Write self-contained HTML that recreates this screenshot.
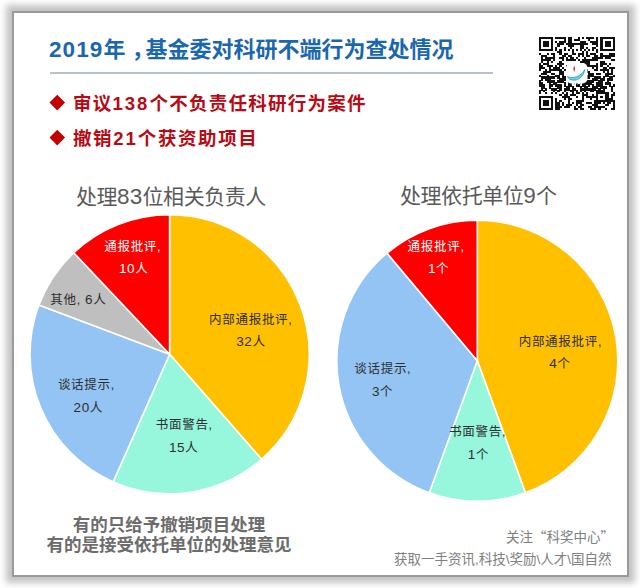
<!DOCTYPE html>
<html><head><meta charset="utf-8">
<style>
html,body{margin:0;padding:0;background:#fff;}
body{width:640px;height:588px;position:relative;overflow:hidden;font-family:"Liberation Sans","Noto Sans CJK SC",sans-serif;}
.frame{position:absolute;left:12px;top:11px;width:613px;height:562px;border:2px solid #9a9a9a;box-shadow:0 0 6.6px 6px rgba(0,0,0,0.24);background:#fff;}
.t{position:absolute;white-space:nowrap;line-height:1;}
#title{left:49px;top:38.5px;font-size:22px;font-weight:bold;color:#1b67ae;font-family:"Liberation Sans","Noto Sans CJK SC",sans-serif;}
#title .cm{position:relative;left:6px;margin-right:-2px;}
#title .d{font-size:22.5px;letter-spacing:1.1px;}
#sep{position:absolute;left:50px;top:72px;width:443px;height:2px;background:#b9c1ca;}
.b{font-size:18.5px;font-weight:bold;color:#b80a14;letter-spacing:1.25px;}
.b .n{letter-spacing:2px;}
.dia{position:absolute;width:10.5px;height:10.5px;background:#c00000;transform:rotate(45deg);}
.ct{font-size:21px;color:#595959;letter-spacing:-0.45px;}
.ct .n{font-size:22.5px;letter-spacing:0.2px;}
.lb{font-size:12.5px;color:#2e2e2e;text-align:center;width:100px;font-weight:400;letter-spacing:0.7px;}
.lb .n{font-size:13.5px;letter-spacing:0.6px;}
.lw{color:#fff;font-weight:400;}
.bt{font-size:17.5px;font-weight:bold;color:#6c6c6c;text-align:center;width:300px;}
.ft{font-size:13.5px;color:#808080;}
.q{font-family:"Noto Sans CJK SC",sans-serif;}
svg{position:absolute;left:0;top:0;}
</style></head><body>
<div class="frame"></div>
<svg width="640" height="588" viewBox="0 0 640 588">
<path d="M169.60,354.20 L169.60,214.60 A139.6,139.6 0 0 1 261.56,459.23 Z" fill="#FFC000" stroke="#fff" stroke-width="1.6" stroke-linejoin="round"/>
<path d="M169.60,354.20 L261.56,459.23 A139.6,139.6 0 0 1 113.14,481.87 Z" fill="#96F7DC" stroke="#fff" stroke-width="1.6" stroke-linejoin="round"/>
<path d="M169.60,354.20 L113.14,481.87 A139.6,139.6 0 0 1 38.93,305.08 Z" fill="#93C4F4" stroke="#fff" stroke-width="1.6" stroke-linejoin="round"/>
<path d="M169.60,354.20 L38.93,305.08 A139.6,139.6 0 0 1 73.73,252.73 Z" fill="#BFBFBF" stroke="#fff" stroke-width="1.6" stroke-linejoin="round"/>
<path d="M169.60,354.20 L73.73,252.73 A139.6,139.6 0 0 1 169.60,214.60 Z" fill="#FF0000" stroke="#fff" stroke-width="1.6" stroke-linejoin="round"/>
<path d="M477.30,360.70 L477.30,220.20 A140.5,140.5 0 0 1 525.35,492.73 Z" fill="#FFC000" stroke="#fff" stroke-width="1.6" stroke-linejoin="round"/>
<path d="M477.30,360.70 L525.35,492.73 A140.5,140.5 0 0 1 429.25,492.73 Z" fill="#96F7DC" stroke="#fff" stroke-width="1.6" stroke-linejoin="round"/>
<path d="M477.30,360.70 L429.25,492.73 A140.5,140.5 0 0 1 386.99,253.07 Z" fill="#93C4F4" stroke="#fff" stroke-width="1.6" stroke-linejoin="round"/>
<path d="M477.30,360.70 L386.99,253.07 A140.5,140.5 0 0 1 477.30,220.20 Z" fill="#FF0000" stroke="#fff" stroke-width="1.6" stroke-linejoin="round"/>
<g fill="#111" shape-rendering="crispEdges">
<rect x="539.00" y="36.60" width="14.39" height="2.04"/>
<rect x="555.39" y="36.60" width="10.29" height="2.04"/>
<rect x="567.68" y="36.60" width="4.15" height="2.04"/>
<rect x="577.92" y="36.60" width="2.10" height="2.04"/>
<rect x="582.02" y="36.60" width="2.10" height="2.04"/>
<rect x="586.12" y="36.60" width="8.24" height="2.04"/>
<rect x="596.36" y="36.60" width="2.10" height="2.04"/>
<rect x="600.46" y="36.60" width="14.39" height="2.04"/>
<rect x="539.00" y="38.59" width="2.10" height="2.04"/>
<rect x="551.29" y="38.59" width="2.10" height="2.04"/>
<rect x="563.58" y="38.59" width="2.10" height="2.04"/>
<rect x="567.68" y="38.59" width="4.15" height="2.04"/>
<rect x="573.83" y="38.59" width="6.20" height="2.04"/>
<rect x="588.17" y="38.59" width="2.10" height="2.04"/>
<rect x="596.36" y="38.59" width="2.10" height="2.04"/>
<rect x="600.46" y="38.59" width="2.10" height="2.04"/>
<rect x="612.75" y="38.59" width="2.10" height="2.04"/>
<rect x="539.00" y="40.59" width="2.10" height="2.04"/>
<rect x="543.10" y="40.59" width="6.20" height="2.04"/>
<rect x="551.29" y="40.59" width="2.10" height="2.04"/>
<rect x="555.39" y="40.59" width="2.10" height="2.04"/>
<rect x="559.49" y="40.59" width="6.20" height="2.04"/>
<rect x="567.68" y="40.59" width="4.15" height="2.04"/>
<rect x="579.97" y="40.59" width="6.20" height="2.04"/>
<rect x="590.22" y="40.59" width="8.24" height="2.04"/>
<rect x="600.46" y="40.59" width="2.10" height="2.04"/>
<rect x="604.56" y="40.59" width="6.20" height="2.04"/>
<rect x="612.75" y="40.59" width="2.10" height="2.04"/>
<rect x="539.00" y="42.58" width="2.10" height="2.04"/>
<rect x="543.10" y="42.58" width="6.20" height="2.04"/>
<rect x="551.29" y="42.58" width="2.10" height="2.04"/>
<rect x="557.44" y="42.58" width="6.20" height="2.04"/>
<rect x="565.63" y="42.58" width="22.59" height="2.04"/>
<rect x="592.26" y="42.58" width="6.20" height="2.04"/>
<rect x="600.46" y="42.58" width="2.10" height="2.04"/>
<rect x="604.56" y="42.58" width="6.20" height="2.04"/>
<rect x="612.75" y="42.58" width="2.10" height="2.04"/>
<rect x="539.00" y="44.58" width="2.10" height="2.04"/>
<rect x="543.10" y="44.58" width="6.20" height="2.04"/>
<rect x="551.29" y="44.58" width="2.10" height="2.04"/>
<rect x="557.44" y="44.58" width="2.10" height="2.04"/>
<rect x="567.68" y="44.58" width="6.20" height="2.04"/>
<rect x="579.97" y="44.58" width="4.15" height="2.04"/>
<rect x="596.36" y="44.58" width="2.10" height="2.04"/>
<rect x="600.46" y="44.58" width="2.10" height="2.04"/>
<rect x="604.56" y="44.58" width="6.20" height="2.04"/>
<rect x="612.75" y="44.58" width="2.10" height="2.04"/>
<rect x="539.00" y="46.57" width="2.10" height="2.04"/>
<rect x="551.29" y="46.57" width="2.10" height="2.04"/>
<rect x="555.39" y="46.57" width="2.10" height="2.04"/>
<rect x="563.58" y="46.57" width="2.10" height="2.04"/>
<rect x="569.73" y="46.57" width="2.10" height="2.04"/>
<rect x="579.97" y="46.57" width="4.15" height="2.04"/>
<rect x="586.12" y="46.57" width="2.10" height="2.04"/>
<rect x="592.26" y="46.57" width="4.15" height="2.04"/>
<rect x="600.46" y="46.57" width="2.10" height="2.04"/>
<rect x="612.75" y="46.57" width="2.10" height="2.04"/>
<rect x="539.00" y="48.57" width="14.39" height="2.04"/>
<rect x="555.39" y="48.57" width="2.10" height="2.04"/>
<rect x="559.49" y="48.57" width="2.10" height="2.04"/>
<rect x="563.58" y="48.57" width="2.10" height="2.04"/>
<rect x="567.68" y="48.57" width="2.10" height="2.04"/>
<rect x="571.78" y="48.57" width="2.10" height="2.04"/>
<rect x="575.88" y="48.57" width="2.10" height="2.04"/>
<rect x="579.97" y="48.57" width="2.10" height="2.04"/>
<rect x="584.07" y="48.57" width="2.10" height="2.04"/>
<rect x="588.17" y="48.57" width="2.10" height="2.04"/>
<rect x="592.26" y="48.57" width="2.10" height="2.04"/>
<rect x="596.36" y="48.57" width="2.10" height="2.04"/>
<rect x="600.46" y="48.57" width="14.39" height="2.04"/>
<rect x="557.44" y="50.56" width="4.15" height="2.04"/>
<rect x="571.78" y="50.56" width="2.10" height="2.04"/>
<rect x="582.02" y="50.56" width="2.10" height="2.04"/>
<rect x="586.12" y="50.56" width="2.10" height="2.04"/>
<rect x="596.36" y="50.56" width="2.10" height="2.04"/>
<rect x="539.00" y="52.56" width="2.10" height="2.04"/>
<rect x="547.19" y="52.56" width="2.10" height="2.04"/>
<rect x="551.29" y="52.56" width="4.15" height="2.04"/>
<rect x="559.49" y="52.56" width="2.10" height="2.04"/>
<rect x="563.58" y="52.56" width="4.15" height="2.04"/>
<rect x="571.78" y="52.56" width="4.15" height="2.04"/>
<rect x="577.92" y="52.56" width="6.20" height="2.04"/>
<rect x="586.12" y="52.56" width="2.10" height="2.04"/>
<rect x="590.22" y="52.56" width="6.20" height="2.04"/>
<rect x="600.46" y="52.56" width="2.10" height="2.04"/>
<rect x="608.65" y="52.56" width="6.20" height="2.04"/>
<rect x="541.05" y="54.55" width="6.20" height="2.04"/>
<rect x="553.34" y="54.55" width="2.10" height="2.04"/>
<rect x="561.54" y="54.55" width="4.15" height="2.04"/>
<rect x="567.68" y="54.55" width="4.15" height="2.04"/>
<rect x="577.92" y="54.55" width="2.10" height="2.04"/>
<rect x="582.02" y="54.55" width="2.10" height="2.04"/>
<rect x="586.12" y="54.55" width="4.15" height="2.04"/>
<rect x="594.31" y="54.55" width="4.15" height="2.04"/>
<rect x="600.46" y="54.55" width="14.39" height="2.04"/>
<rect x="541.05" y="56.55" width="2.10" height="2.04"/>
<rect x="545.15" y="56.55" width="10.29" height="2.04"/>
<rect x="559.49" y="56.55" width="4.15" height="2.04"/>
<rect x="565.63" y="56.55" width="2.10" height="2.04"/>
<rect x="569.73" y="56.55" width="4.15" height="2.04"/>
<rect x="575.88" y="56.55" width="2.10" height="2.04"/>
<rect x="584.07" y="56.55" width="2.10" height="2.04"/>
<rect x="592.26" y="56.55" width="10.29" height="2.04"/>
<rect x="604.56" y="56.55" width="6.20" height="2.04"/>
<rect x="541.05" y="58.54" width="10.29" height="2.04"/>
<rect x="553.34" y="58.54" width="2.10" height="2.04"/>
<rect x="561.54" y="58.54" width="2.10" height="2.04"/>
<rect x="565.63" y="58.54" width="10.29" height="2.04"/>
<rect x="577.92" y="58.54" width="2.10" height="2.04"/>
<rect x="582.02" y="58.54" width="16.44" height="2.04"/>
<rect x="610.70" y="58.54" width="4.15" height="2.04"/>
<rect x="541.05" y="60.54" width="2.10" height="2.04"/>
<rect x="547.19" y="60.54" width="2.10" height="2.04"/>
<rect x="551.29" y="60.54" width="2.10" height="2.04"/>
<rect x="559.49" y="60.54" width="2.10" height="2.04"/>
<rect x="579.97" y="60.54" width="10.29" height="2.04"/>
<rect x="600.46" y="60.54" width="4.15" height="2.04"/>
<rect x="539.00" y="62.53" width="2.10" height="2.04"/>
<rect x="543.10" y="62.53" width="6.20" height="2.04"/>
<rect x="557.44" y="62.53" width="6.20" height="2.04"/>
<rect x="571.78" y="62.53" width="6.20" height="2.04"/>
<rect x="579.97" y="62.53" width="2.10" height="2.04"/>
<rect x="584.07" y="62.53" width="6.20" height="2.04"/>
<rect x="596.36" y="62.53" width="2.10" height="2.04"/>
<rect x="600.46" y="62.53" width="6.20" height="2.04"/>
<rect x="608.65" y="62.53" width="2.10" height="2.04"/>
<rect x="539.00" y="64.52" width="4.15" height="2.04"/>
<rect x="547.19" y="64.52" width="6.20" height="2.04"/>
<rect x="555.39" y="64.52" width="2.10" height="2.04"/>
<rect x="559.49" y="64.52" width="2.10" height="2.04"/>
<rect x="565.63" y="64.52" width="2.10" height="2.04"/>
<rect x="575.88" y="64.52" width="2.10" height="2.04"/>
<rect x="579.97" y="64.52" width="18.49" height="2.04"/>
<rect x="600.46" y="64.52" width="2.10" height="2.04"/>
<rect x="606.61" y="64.52" width="2.10" height="2.04"/>
<rect x="539.00" y="66.52" width="6.20" height="2.04"/>
<rect x="549.24" y="66.52" width="2.10" height="2.04"/>
<rect x="553.34" y="66.52" width="6.20" height="2.04"/>
<rect x="561.54" y="66.52" width="2.10" height="2.04"/>
<rect x="565.63" y="66.52" width="4.15" height="2.04"/>
<rect x="571.78" y="66.52" width="4.15" height="2.04"/>
<rect x="592.26" y="66.52" width="2.10" height="2.04"/>
<rect x="596.36" y="66.52" width="2.10" height="2.04"/>
<rect x="602.51" y="66.52" width="4.15" height="2.04"/>
<rect x="608.65" y="66.52" width="6.20" height="2.04"/>
<rect x="539.00" y="68.51" width="2.10" height="2.04"/>
<rect x="545.15" y="68.51" width="2.10" height="2.04"/>
<rect x="549.24" y="68.51" width="12.34" height="2.04"/>
<rect x="563.58" y="68.51" width="4.15" height="2.04"/>
<rect x="571.78" y="68.51" width="16.44" height="2.04"/>
<rect x="594.31" y="68.51" width="4.15" height="2.04"/>
<rect x="600.46" y="68.51" width="8.24" height="2.04"/>
<rect x="610.70" y="68.51" width="2.10" height="2.04"/>
<rect x="543.10" y="70.51" width="8.24" height="2.04"/>
<rect x="559.49" y="70.51" width="4.15" height="2.04"/>
<rect x="567.68" y="70.51" width="2.10" height="2.04"/>
<rect x="571.78" y="70.51" width="4.15" height="2.04"/>
<rect x="584.07" y="70.51" width="6.20" height="2.04"/>
<rect x="602.51" y="70.51" width="2.10" height="2.04"/>
<rect x="606.61" y="70.51" width="2.10" height="2.04"/>
<rect x="610.70" y="70.51" width="2.10" height="2.04"/>
<rect x="541.05" y="72.50" width="6.20" height="2.04"/>
<rect x="551.29" y="72.50" width="4.15" height="2.04"/>
<rect x="559.49" y="72.50" width="4.15" height="2.04"/>
<rect x="565.63" y="72.50" width="6.20" height="2.04"/>
<rect x="577.92" y="72.50" width="6.20" height="2.04"/>
<rect x="588.17" y="72.50" width="6.20" height="2.04"/>
<rect x="596.36" y="72.50" width="4.15" height="2.04"/>
<rect x="604.56" y="72.50" width="8.24" height="2.04"/>
<rect x="539.00" y="74.50" width="2.10" height="2.04"/>
<rect x="547.19" y="74.50" width="2.10" height="2.04"/>
<rect x="555.39" y="74.50" width="4.15" height="2.04"/>
<rect x="561.54" y="74.50" width="2.10" height="2.04"/>
<rect x="565.63" y="74.50" width="8.24" height="2.04"/>
<rect x="577.92" y="74.50" width="6.20" height="2.04"/>
<rect x="586.12" y="74.50" width="8.24" height="2.04"/>
<rect x="604.56" y="74.50" width="4.15" height="2.04"/>
<rect x="612.75" y="74.50" width="2.10" height="2.04"/>
<rect x="541.05" y="76.49" width="14.39" height="2.04"/>
<rect x="557.44" y="76.49" width="2.10" height="2.04"/>
<rect x="561.54" y="76.49" width="4.15" height="2.04"/>
<rect x="569.73" y="76.49" width="8.24" height="2.04"/>
<rect x="579.97" y="76.49" width="4.15" height="2.04"/>
<rect x="586.12" y="76.49" width="4.15" height="2.04"/>
<rect x="594.31" y="76.49" width="6.20" height="2.04"/>
<rect x="602.51" y="76.49" width="2.10" height="2.04"/>
<rect x="608.65" y="76.49" width="4.15" height="2.04"/>
<rect x="541.05" y="78.49" width="2.10" height="2.04"/>
<rect x="545.15" y="78.49" width="6.20" height="2.04"/>
<rect x="559.49" y="78.49" width="6.20" height="2.04"/>
<rect x="569.73" y="78.49" width="8.24" height="2.04"/>
<rect x="579.97" y="78.49" width="2.10" height="2.04"/>
<rect x="592.26" y="78.49" width="6.20" height="2.04"/>
<rect x="600.46" y="78.49" width="4.15" height="2.04"/>
<rect x="606.61" y="78.49" width="6.20" height="2.04"/>
<rect x="539.00" y="80.48" width="2.10" height="2.04"/>
<rect x="547.19" y="80.48" width="8.24" height="2.04"/>
<rect x="557.44" y="80.48" width="6.20" height="2.04"/>
<rect x="573.83" y="80.48" width="2.10" height="2.04"/>
<rect x="577.92" y="80.48" width="2.10" height="2.04"/>
<rect x="582.02" y="80.48" width="2.10" height="2.04"/>
<rect x="586.12" y="80.48" width="8.24" height="2.04"/>
<rect x="598.41" y="80.48" width="4.15" height="2.04"/>
<rect x="606.61" y="80.48" width="2.10" height="2.04"/>
<rect x="539.00" y="82.48" width="4.15" height="2.04"/>
<rect x="549.24" y="82.48" width="2.10" height="2.04"/>
<rect x="553.34" y="82.48" width="4.15" height="2.04"/>
<rect x="563.58" y="82.48" width="2.10" height="2.04"/>
<rect x="567.68" y="82.48" width="4.15" height="2.04"/>
<rect x="575.88" y="82.48" width="2.10" height="2.04"/>
<rect x="582.02" y="82.48" width="10.29" height="2.04"/>
<rect x="596.36" y="82.48" width="6.20" height="2.04"/>
<rect x="604.56" y="82.48" width="6.20" height="2.04"/>
<rect x="539.00" y="84.47" width="6.20" height="2.04"/>
<rect x="549.24" y="84.47" width="4.15" height="2.04"/>
<rect x="555.39" y="84.47" width="6.20" height="2.04"/>
<rect x="563.58" y="84.47" width="2.10" height="2.04"/>
<rect x="567.68" y="84.47" width="4.15" height="2.04"/>
<rect x="575.88" y="84.47" width="4.15" height="2.04"/>
<rect x="582.02" y="84.47" width="4.15" height="2.04"/>
<rect x="588.17" y="84.47" width="2.10" height="2.04"/>
<rect x="592.26" y="84.47" width="2.10" height="2.04"/>
<rect x="596.36" y="84.47" width="6.20" height="2.04"/>
<rect x="608.65" y="84.47" width="2.10" height="2.04"/>
<rect x="612.75" y="84.47" width="2.10" height="2.04"/>
<rect x="541.05" y="86.46" width="4.15" height="2.04"/>
<rect x="549.24" y="86.46" width="2.10" height="2.04"/>
<rect x="557.44" y="86.46" width="4.15" height="2.04"/>
<rect x="565.63" y="86.46" width="4.15" height="2.04"/>
<rect x="571.78" y="86.46" width="2.10" height="2.04"/>
<rect x="579.97" y="86.46" width="2.10" height="2.04"/>
<rect x="584.07" y="86.46" width="4.15" height="2.04"/>
<rect x="592.26" y="86.46" width="6.20" height="2.04"/>
<rect x="600.46" y="86.46" width="6.20" height="2.04"/>
<rect x="610.70" y="86.46" width="2.10" height="2.04"/>
<rect x="541.05" y="88.46" width="2.10" height="2.04"/>
<rect x="545.15" y="88.46" width="2.10" height="2.04"/>
<rect x="551.29" y="88.46" width="6.20" height="2.04"/>
<rect x="559.49" y="88.46" width="2.10" height="2.04"/>
<rect x="563.58" y="88.46" width="6.20" height="2.04"/>
<rect x="571.78" y="88.46" width="4.15" height="2.04"/>
<rect x="579.97" y="88.46" width="16.44" height="2.04"/>
<rect x="598.41" y="88.46" width="2.10" height="2.04"/>
<rect x="602.51" y="88.46" width="2.10" height="2.04"/>
<rect x="610.70" y="88.46" width="2.10" height="2.04"/>
<rect x="539.00" y="90.45" width="2.10" height="2.04"/>
<rect x="543.10" y="90.45" width="2.10" height="2.04"/>
<rect x="553.34" y="90.45" width="2.10" height="2.04"/>
<rect x="557.44" y="90.45" width="2.10" height="2.04"/>
<rect x="563.58" y="90.45" width="2.10" height="2.04"/>
<rect x="569.73" y="90.45" width="4.15" height="2.04"/>
<rect x="575.88" y="90.45" width="2.10" height="2.04"/>
<rect x="579.97" y="90.45" width="2.10" height="2.04"/>
<rect x="584.07" y="90.45" width="2.10" height="2.04"/>
<rect x="590.22" y="90.45" width="4.15" height="2.04"/>
<rect x="596.36" y="90.45" width="8.24" height="2.04"/>
<rect x="610.70" y="90.45" width="2.10" height="2.04"/>
<rect x="539.00" y="92.45" width="2.10" height="2.04"/>
<rect x="545.15" y="92.45" width="2.10" height="2.04"/>
<rect x="551.29" y="92.45" width="2.10" height="2.04"/>
<rect x="555.39" y="92.45" width="2.10" height="2.04"/>
<rect x="561.54" y="92.45" width="2.10" height="2.04"/>
<rect x="565.63" y="92.45" width="2.10" height="2.04"/>
<rect x="571.78" y="92.45" width="2.10" height="2.04"/>
<rect x="575.88" y="92.45" width="4.15" height="2.04"/>
<rect x="582.02" y="92.45" width="2.10" height="2.04"/>
<rect x="586.12" y="92.45" width="2.10" height="2.04"/>
<rect x="596.36" y="92.45" width="12.34" height="2.04"/>
<rect x="612.75" y="92.45" width="2.10" height="2.04"/>
<rect x="559.49" y="94.44" width="2.10" height="2.04"/>
<rect x="563.58" y="94.44" width="4.15" height="2.04"/>
<rect x="569.73" y="94.44" width="6.20" height="2.04"/>
<rect x="582.02" y="94.44" width="6.20" height="2.04"/>
<rect x="592.26" y="94.44" width="2.10" height="2.04"/>
<rect x="596.36" y="94.44" width="2.10" height="2.04"/>
<rect x="604.56" y="94.44" width="4.15" height="2.04"/>
<rect x="610.70" y="94.44" width="4.15" height="2.04"/>
<rect x="539.00" y="96.44" width="14.39" height="2.04"/>
<rect x="561.54" y="96.44" width="8.24" height="2.04"/>
<rect x="575.88" y="96.44" width="2.10" height="2.04"/>
<rect x="582.02" y="96.44" width="2.10" height="2.04"/>
<rect x="586.12" y="96.44" width="12.34" height="2.04"/>
<rect x="600.46" y="96.44" width="2.10" height="2.04"/>
<rect x="604.56" y="96.44" width="4.15" height="2.04"/>
<rect x="610.70" y="96.44" width="2.10" height="2.04"/>
<rect x="539.00" y="98.43" width="2.10" height="2.04"/>
<rect x="551.29" y="98.43" width="2.10" height="2.04"/>
<rect x="555.39" y="98.43" width="2.10" height="2.04"/>
<rect x="563.58" y="98.43" width="2.10" height="2.04"/>
<rect x="567.68" y="98.43" width="4.15" height="2.04"/>
<rect x="582.02" y="98.43" width="2.10" height="2.04"/>
<rect x="590.22" y="98.43" width="2.10" height="2.04"/>
<rect x="596.36" y="98.43" width="2.10" height="2.04"/>
<rect x="604.56" y="98.43" width="8.24" height="2.04"/>
<rect x="539.00" y="100.43" width="2.10" height="2.04"/>
<rect x="543.10" y="100.43" width="6.20" height="2.04"/>
<rect x="551.29" y="100.43" width="2.10" height="2.04"/>
<rect x="555.39" y="100.43" width="2.10" height="2.04"/>
<rect x="559.49" y="100.43" width="2.10" height="2.04"/>
<rect x="567.68" y="100.43" width="2.10" height="2.04"/>
<rect x="575.88" y="100.43" width="8.24" height="2.04"/>
<rect x="594.31" y="100.43" width="20.54" height="2.04"/>
<rect x="539.00" y="102.42" width="2.10" height="2.04"/>
<rect x="543.10" y="102.42" width="6.20" height="2.04"/>
<rect x="551.29" y="102.42" width="2.10" height="2.04"/>
<rect x="555.39" y="102.42" width="4.15" height="2.04"/>
<rect x="561.54" y="102.42" width="2.10" height="2.04"/>
<rect x="567.68" y="102.42" width="2.10" height="2.04"/>
<rect x="571.78" y="102.42" width="2.10" height="2.04"/>
<rect x="575.88" y="102.42" width="6.20" height="2.04"/>
<rect x="586.12" y="102.42" width="6.20" height="2.04"/>
<rect x="594.31" y="102.42" width="6.20" height="2.04"/>
<rect x="602.51" y="102.42" width="2.10" height="2.04"/>
<rect x="606.61" y="102.42" width="4.15" height="2.04"/>
<rect x="612.75" y="102.42" width="2.10" height="2.04"/>
<rect x="539.00" y="104.42" width="2.10" height="2.04"/>
<rect x="543.10" y="104.42" width="6.20" height="2.04"/>
<rect x="551.29" y="104.42" width="2.10" height="2.04"/>
<rect x="555.39" y="104.42" width="4.15" height="2.04"/>
<rect x="561.54" y="104.42" width="2.10" height="2.04"/>
<rect x="565.63" y="104.42" width="6.20" height="2.04"/>
<rect x="575.88" y="104.42" width="2.10" height="2.04"/>
<rect x="579.97" y="104.42" width="4.15" height="2.04"/>
<rect x="592.26" y="104.42" width="6.20" height="2.04"/>
<rect x="604.56" y="104.42" width="4.15" height="2.04"/>
<rect x="612.75" y="104.42" width="2.10" height="2.04"/>
<rect x="539.00" y="106.41" width="2.10" height="2.04"/>
<rect x="551.29" y="106.41" width="2.10" height="2.04"/>
<rect x="555.39" y="106.41" width="6.20" height="2.04"/>
<rect x="563.58" y="106.41" width="6.20" height="2.04"/>
<rect x="573.83" y="106.41" width="2.10" height="2.04"/>
<rect x="577.92" y="106.41" width="4.15" height="2.04"/>
<rect x="588.17" y="106.41" width="4.15" height="2.04"/>
<rect x="594.31" y="106.41" width="10.29" height="2.04"/>
<rect x="612.75" y="106.41" width="2.10" height="2.04"/>
<rect x="539.00" y="108.41" width="14.39" height="2.04"/>
<rect x="555.39" y="108.41" width="4.15" height="2.04"/>
<rect x="573.83" y="108.41" width="4.15" height="2.04"/>
<rect x="579.97" y="108.41" width="4.15" height="2.04"/>
<rect x="590.22" y="108.41" width="6.20" height="2.04"/>
<rect x="598.41" y="108.41" width="2.10" height="2.04"/>
<rect x="604.56" y="108.41" width="2.10" height="2.04"/>
<rect x="610.70" y="108.41" width="4.15" height="2.04"/>
</g>
<rect x="566" y="63" width="21.5" height="20.5" rx="5" fill="#fff"/>
<path d="M567.5,76.5 C569,82 582.5,82.5 584.8,69.5 C581,77.3 571.5,79 567.5,76.5 Z" fill="#6ad0ea" stroke="#2a98bc" stroke-width="0.8"/>
<path d="M574.2,65.5 L575.1,68.8 L574.2,72.2 L573.3,68.8 Z" fill="#b03444"/>
<g fill="#999"><rect x="571" y="83.5" width="1" height="1"/><rect x="574" y="83.5" width="1" height="1"/><rect x="577" y="83.5" width="1" height="1"/><rect x="580" y="83.5" width="1" height="1"/></g>
</svg>
<div class="t" id="title"><span class="d">2019</span>年<span class="cm">，</span>基金委对科研不端行为查处情况</div>
<div id="sep"></div>
<div class="dia" style="left:52px;top:96.5px"></div>
<div class="t b" style="left:73px;top:94.5px">审议<span class="n">138</span>个不负责任科研行为案件</div>
<div class="dia" style="left:52px;top:132px"></div>
<div class="t b" style="left:73px;top:130px;letter-spacing:1.6px">撤销<span class="n">21</span>个获资助项目</div>
<div class="t ct" style="left:76px;top:186px">处理<span class="n">83</span>位相关负责人</div>
<div class="t ct" style="left:400px;top:184.5px">处理依托单位<span class="n">9</span>个</div>

<div class="t lb lw" style="left:82.75px;top:240.80px">通报批评,</div>
<div class="t lb lw" style="left:83.70px;top:261.50px"><span class="n">10</span>人</div>
<div class="t lb" style="left:28.30px;top:293.20px">其他, <span class="n">6</span>人</div>
<div class="t lb" style="left:200.80px;top:313.80px">内部通报批评,</div>
<div class="t lb" style="left:200.95px;top:335.10px"><span class="n">32</span>人</div>
<div class="t lb" style="left:36.40px;top:378.60px">谈话提示,</div>
<div class="t lb" style="left:38.30px;top:400.50px"><span class="n">20</span>人</div>
<div class="t lb" style="left:134.30px;top:418.60px">书面警告,</div>
<div class="t lb" style="left:133.60px;top:440.80px"><span class="n">15</span>人</div>
<div class="t lb lw" style="left:386.10px;top:240.60px">通报批评,</div>
<div class="t lb lw" style="left:388.65px;top:262.00px"><span class="n">1</span>个</div>
<div class="t lb" style="left:510.40px;top:335.60px">内部通报批评,</div>
<div class="t lb" style="left:510.00px;top:357.00px"><span class="n">4</span>个</div>
<div class="t lb" style="left:332.80px;top:363.30px">谈话提示,</div>
<div class="t lb" style="left:332.65px;top:384.70px"><span class="n">3</span>个</div>
<div class="t lb" style="left:427.65px;top:425.60px">书面警告,</div>
<div class="t lb" style="left:428.45px;top:447.80px"><span class="n">1</span>个</div>

<div class="t bt" style="left:19px;top:517px">有的只给予撤销项目处理</div>
<div class="t bt" style="left:19px;top:537px">有的是接受依托单位的处理意见</div>
<div class="t ft" style="left:506px;top:530px">关注<span class="q">“</span>科奖中心<span class="q">”</span></div>
<div class="t ft" style="left:394px;top:553px">获取一手资讯,科技\奖励\人才\国自然</div>
</body></html>
